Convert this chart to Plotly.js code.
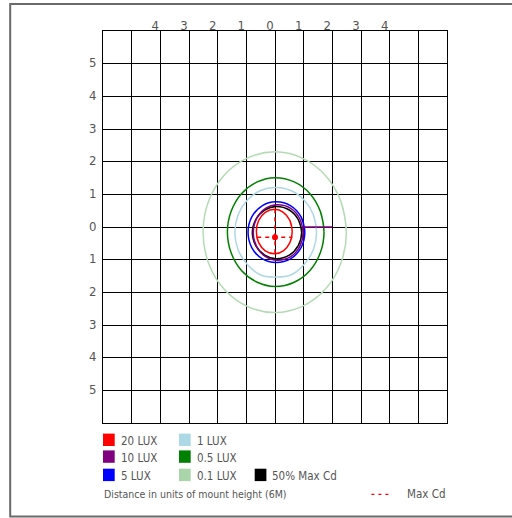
<!DOCTYPE html>
<html><head><meta charset="utf-8">
<script src="https://cdn.plot.ly/plotly-3.0.1.min.js"></script>
<style>html,body{margin:0;padding:0;background:#fff}#chart{width:512px;height:518px}</style>
</head><body><div id="chart"></div>
<script>
// ---- tick labels ----
const xTickVals = [-4, -3, -2, -1, 0, 1, 2, 3, 4];
const xTickText = ['4', '3', '2', '1', '0', '1', '2', '3', '4'];
const yTickVals = [-5, -4, -3, -2, -1, 0, 1, 2, 3, 4, 5];
const yTickText = ['5', '4', '3', '2', '1', '0', '1', '2', '3', '4', '5'];

// ---- series (iso-lux contours, units of mount height) ----
const seriesNames = ['0.1 LUX', '0.5 LUX', '1 LUX', '5 LUX', '50% Max Cd', '10 LUX', '20 LUX'];

const lux01X = [2.49, 2.30, 1.76, 0.95, 0, -0.97, -1.78, -2.32, -2.51, -2.32, -1.78, -0.97, 0, 0.95, 1.76, 2.30];
const lux01Y = [-0.16, 0.78, 1.58, 2.11, 2.30, 2.11, 1.58, 0.78, -0.16, -1.10, -1.90, -2.43, -2.62, -2.43, -1.90, -1.10];

const lux05X = [1.71, 1.58, 1.22, 0.67, 0, -0.62, -1.17, -1.53, -1.66, -1.53, -1.17, -0.62, 0, 0.67, 1.22, 1.58];
const lux05Y = [-0.15, 0.48, 1.02, 1.38, 1.51, 1.38, 1.02, 0.48, -0.15, -0.79, -1.33, -1.69, -1.82, -1.69, -1.33, -0.79];

const lux1X = [1.45, 1.34, 1.03, 0.57, 0, -0.52, -0.98, -1.29, -1.40, -1.29, -0.98, -0.52, 0, 0.57, 1.03, 1.34];
const lux1Y = [-0.16, 0.37, 0.81, 1.11, 1.21, 1.11, 0.81, 0.37, -0.16, -0.69, -1.13, -1.46, -1.53, -1.46, -1.13, -0.69];

const lux5X = [1.04, 0.91, 0.55, 0.03, -0.45, -0.81, -0.94, -0.81, -0.45, 0.03, 0.55, 0.91];
const lux5Y = [-0.16, 0.31, 0.65, 0.77, 0.65, 0.31, -0.16, -0.63, -0.97, -1.09, -0.97, -0.63];

const cd50X = [0.93, 0.81, 0.50, 0.05, -0.36, -0.67, -0.79, -0.67, -0.36, 0.05, 0.50, 0.81];
const cd50Y = [-0.17, 0.23, 0.52, 0.63, 0.52, 0.23, -0.17, -0.57, -0.86, -0.97, -0.86, -0.57];

const lux10X = [0.98, 0.86, 0.55, 0.08, -0.33, -0.64, -0.76, -0.64, -0.33, 0.08, 0.55, 0.86];
const lux10Y = [-0.17, 0.26, 0.57, 0.68, 0.57, 0.26, -0.17, -0.60, -0.91, -1.02, -0.91, -0.60];
const lux10TailX = [0.98, 2.0];
const lux10TailY = [0, 0];

const lux20X = [0.60, 0.52, 0.29, 0, -0.34, -0.57, -0.65, -0.57, -0.34, 0, 0.29, 0.52];
const lux20Y = [-0.14, 0.20, 0.45, 0.54, 0.45, 0.20, -0.14, -0.48, -0.73, -0.82, -0.73, -0.48];

// ---- max candela point and cross ----
const maxCdX = [0];
const maxCdY = [-0.31];
const maxCdHX = [-0.62, 0.60];
const maxCdHY = [-0.31, -0.31];
const maxCdVX = [0, 0];
const maxCdVY = [0.54, -0.82];

// ---- legend entries ----
const legendLabels = ['20 LUX', '10 LUX', '5 LUX', '1 LUX', '0.5 LUX', '0.1 LUX', '50% Max Cd'];
const legendColors = ['#ff0000', '#800080', '#0000ff', '#add8e6', '#008000', '#aad5aa', '#000000'];
const footText = 'Distance in units of mount height (6M)';
const maxCdLabel = 'Max Cd';

// ---------------------------------------------------------------
const colorOf = {};
legendLabels.forEach((n, i) => colorOf[n] = legendColors[i]);
const lineColorOf = Object.assign({}, colorOf, {'0.1 LUX': '#b4dcb4'});

const close = a => a.concat([a[0], a[1]]);
const contourData = {
  '0.1 LUX': [lux01X, lux01Y],
  '0.5 LUX': [lux05X, lux05Y],
  '1 LUX': [lux1X, lux1Y],
  '5 LUX': [lux5X, lux5Y],
  '50% Max Cd': [cd50X, cd50Y],
  '10 LUX': [lux10X, lux10Y],
  '20 LUX': [lux20X, lux20Y]
};

const traces = [];
seriesNames.forEach(n => {
  const [xs, ys] = contourData[n];
  traces.push({
    type: 'scatter', mode: 'lines', name: n, showlegend: false,
    x: close(xs), y: close(ys),
    line: {color: lineColorOf[n], width: 1.5, shape: 'spline', smoothing: 1.2},
    hoverinfo: 'skip'
  });
  if (n === '10 LUX') {
    traces.push({
      type: 'scatter', mode: 'lines', name: n, showlegend: false,
      x: lux10TailX, y: lux10TailY,
      line: {color: lineColorOf[n], width: 1.5}, hoverinfo: 'skip'
    });
  }
});
traces.push({type: 'scatter', mode: 'lines', name: 'Max Cd', showlegend: false,
  x: maxCdHX, y: maxCdHY, line: {color: '#ff0000', width: 1.5, dash: '4px,4px'}, hoverinfo: 'skip'});
traces.push({type: 'scatter', mode: 'lines', name: 'Max Cd', showlegend: false,
  x: maxCdVX, y: maxCdVY, line: {color: '#ff0000', width: 1.5, dash: '4px,4px'}, hoverinfo: 'skip'});
traces.push({type: 'scatter', mode: 'markers', name: 'Max Cd', showlegend: false,
  x: maxCdX, y: maxCdY, marker: {color: '#ff0000', size: 6}, hoverinfo: 'skip'});
// invisible carrier for the top label axis
traces.push({type: 'scatter', mode: 'markers', xaxis: 'x2', yaxis: 'y', x: [0], y: [0],
  marker: {opacity: 0}, showlegend: false, hoverinfo: 'skip'});

// pixel -> paper helpers (layout geometry)
const PL = 103.3, PR = 447.3, PT = 30.7, PB = 422.7;
const px = X => (X - PL) / (PR - PL);
const py = Y => (PB - Y) / (PB - PT);

const FONT = 'DejaVu Sans Condensed, Liberation Sans Narrow, Liberation Sans, Arial, sans-serif';
const TXT = '#555555';

const shapes = [];
const annotations = [];
// outer frame
shapes.push({type: 'rect', xref: 'paper', yref: 'paper',
  x0: px(10.5), x1: px(540), y0: py(3.7), y1: py(516.3),
  line: {color: '#6a6a6a', width: 2}, fillcolor: 'rgba(0,0,0,0)', layer: 'below'});

// custom legend grid: 3 columns
const colX = [103.3, 179.3, 255];
const rowY = [439.5, 456.3, 474.6];
const legendPos = [[0,0],[0,1],[0,2],[1,0],[1,1],[1,2],[2,2]];
legendLabels.forEach((lab, i) => {
  const [c, r] = legendPos[i];
  const x0 = colX[c], yc = rowY[r];
  shapes.push({type: 'rect', xref: 'paper', yref: 'paper',
    x0: px(x0), x1: px(x0 + 11.7), y0: py(yc - 6.2), y1: py(yc + 6.2),
    line: {width: 0}, fillcolor: legendColors[i]});
  annotations.push({xref: 'paper', yref: 'paper', x: px(x0 + 15.5), y: py(yc + 1.5),
    xanchor: 'left', yanchor: 'middle', showarrow: false, text: lab,
    font: {family: FONT, size: 11.5, color: TXT}});
});
annotations.push({xref: 'paper', yref: 'paper', x: px(102.5), y: py(493.5),
  xanchor: 'left', yanchor: 'middle', showarrow: false, text: footText,
  font: {family: FONT, size: 10.5, color: TXT}});
shapes.push({type: 'line', xref: 'paper', yref: 'paper',
  x0: px(371.7), x1: px(390.5), y0: py(494), y1: py(494),
  line: {color: '#ff0000', width: 1.2, dash: '3px,4px'}});
annotations.push({xref: 'paper', yref: 'paper', x: px(405.5), y: py(493.5),
  xanchor: 'left', yanchor: 'middle', showarrow: false, text: maxCdLabel,
  font: {family: FONT, size: 11.5, color: TXT}});

const GRID = '#000000';
const layout = {
  width: 512, height: 518,
  margin: {l: PL, r: 512 - PR, t: PT, b: 518 - PB, pad: 0},
  paper_bgcolor: '#ffffff', plot_bgcolor: '#ffffff',
  showlegend: false,
  xaxis: {
    range: [-6, 6], side: 'top', fixedrange: true,
    tickmode: 'array', tickvals: xTickVals, ticktext: xTickText,
    showticklabels: false, ticks: '',
    showgrid: true, gridcolor: GRID, gridwidth: 1,
    minor: {tickmode: 'linear', tick0: 0, dtick: 1, showgrid: true, gridcolor: GRID, gridwidth: 1, ticks: ''},
    zeroline: true, zerolinecolor: '#000', zerolinewidth: 1,
    showline: true, mirror: true, linecolor: '#000', linewidth: 1
  },
  xaxis2: {
    range: [-6, 6], overlaying: 'x', side: 'top', anchor: 'free', position: py(32),
    fixedrange: true, tickmode: 'array', tickvals: xTickVals, ticktext: xTickText,
    ticks: '', ticklabelshift: -5, showgrid: false, zeroline: false, showline: false,
    tickfont: {family: FONT, size: 13, color: TXT}
  },
  yaxis: {
    range: [-6, 6], fixedrange: true,
    tickmode: 'array', tickvals: yTickVals, ticktext: yTickText,
    ticks: '', ticklabelstandoff: 3, ticklabelshift: -1,
    tickfont: {family: FONT, size: 13, color: TXT},
    showgrid: true, gridcolor: GRID, gridwidth: 1,
    zeroline: true, zerolinecolor: '#000', zerolinewidth: 1,
    showline: true, mirror: true, linecolor: '#000', linewidth: 1
  },
  shapes: shapes,
  annotations: annotations
};

Plotly.newPlot('chart', traces, layout, {staticPlot: true, displayModeBar: false});
</script>
</body></html>
